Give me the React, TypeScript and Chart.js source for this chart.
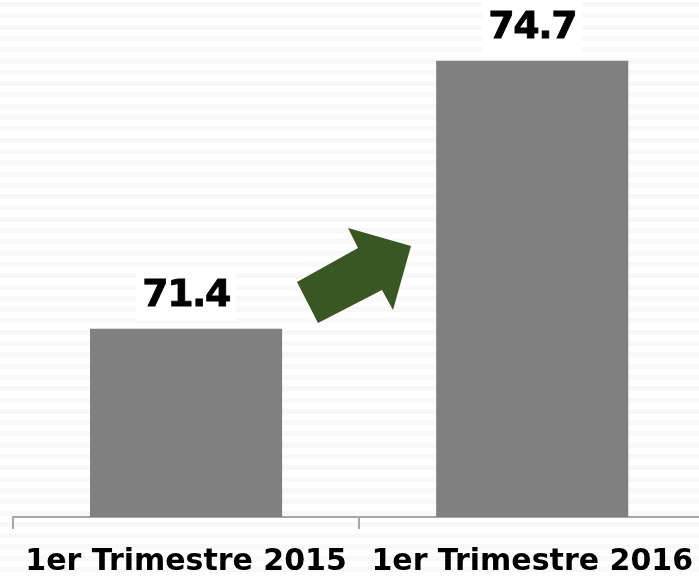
import { useEffect, useRef } from "react";
import { Chart, registerables } from "chart.js";

Chart.register(...registerables);

const categories = ["1er Trimestre 2015", "1er Trimestre 2016"];
const values = [71.4, 74.7];
const valueLabels = ["71.4", "74.7"];
const yMin = 69.08;
const yMax = 75.45;

export default function App() {
  const ref = useRef<HTMLCanvasElement>(null);

  useEffect(() => {
    const canvas = ref.current;
    if (!canvas) return;

    const stripes = {
      id: "stripes",
      beforeDraw(chart: any) {
        const { ctx, width, height } = chart;
        ctx.save();
        ctx.fillStyle = "#ffffff";
        ctx.fillRect(0, 0, width, height);
        ctx.fillStyle = "#f8f8f8";
        for (let y = 2; y < height; y += 11.3) {
          ctx.fillRect(0, Math.round(y), width, 5);
        }
        ctx.restore();
      },
    };

    const arrow = {
      id: "arrow",
      afterDatasetsDraw(chart: any) {
        const { ctx } = chart;
        const pts = [
          [297, 282],
          [318, 323],
          [382, 290],
          [393, 310],
          [411, 246],
          [348, 228],
          [358, 248],
        ];
        ctx.save();
        ctx.fillStyle = "#385723";
        ctx.beginPath();
        pts.forEach((p, i) => (i === 0 ? ctx.moveTo(p[0], p[1]) : ctx.lineTo(p[0], p[1])));
        ctx.closePath();
        ctx.fill();
        ctx.restore();
      },
    };

    const dataLabels = {
      id: "dataLabels",
      afterDatasetsDraw(chart: any) {
        const { ctx } = chart;
        const meta = chart.getDatasetMeta(0);
        ctx.save();
        meta.data.forEach((bar: any, i: number) => {
          const boxW = 100;
          const boxH = 51;
          const bottom = bar.y - 8;
          ctx.fillStyle = "#ffffff";
          ctx.fillRect(bar.x - boxW / 2, bottom - boxH, boxW, boxH);
          ctx.fillStyle = "#000000";
          ctx.font = "bold 38px 'DejaVu Sans'";
          (ctx as any).letterSpacing = "-1.5px";
          ctx.textAlign = "center";
          ctx.textBaseline = "middle";
          ctx.strokeStyle = "#000000";
          ctx.lineWidth = 0.8;
          ctx.fillText(valueLabels[i], bar.x, bottom - boxH / 2 + 1);
          ctx.strokeText(valueLabels[i], bar.x, bottom - boxH / 2 + 1);
        });
        ctx.restore();
      },
    };

    const chart = new Chart(canvas, {
      type: "bar",
      data: {
        labels: categories,
        datasets: [
          {
            data: values,
            backgroundColor: "#808080",
            borderWidth: 0,
            categoryPercentage: 1,
            barPercentage: 0.555,
          },
        ],
      },
      options: {
        responsive: false,
        animation: false,
        layout: { padding: { left: 13, top: 0, right: 0, bottom: 0 } },
        plugins: {
          legend: { display: false },
          tooltip: { enabled: false },
        },
        scales: {
          x: {
            offset: true,
            grid: {
              display: true,
              offset: true,
              drawOnChartArea: false,
              drawTicks: true,
              tickLength: 12,
              color: "#a6a6a6",
              lineWidth: 2,
            },
            border: { display: true, color: "#a6a6a6", width: 2 },
            ticks: {
              color: "#000000",
              font: { family: "'DejaVu Sans'", size: 30, weight: "bold", lineHeight: 1.2 },
              padding: 15,
              maxRotation: 0,
              autoSkip: false,
            },
            afterFit(scale: any) {
              scale.height = 59;
            },
          },
          y: {
            display: false,
            min: yMin,
            max: yMax,
          },
        },
      },
      plugins: [stripes, arrow, dataLabels],
    });

    return () => chart.destroy();
  }, []);

  return (
    <div
      style={{
        position: "fixed",
        left: 0,
        top: 0,
        width: 699,
        height: 576,
        overflow: "hidden",
        background: "#fff",
      }}
    >
      <canvas ref={ref} width={708} height={576} style={{ display: "block" }} />
    </div>
  );
}
